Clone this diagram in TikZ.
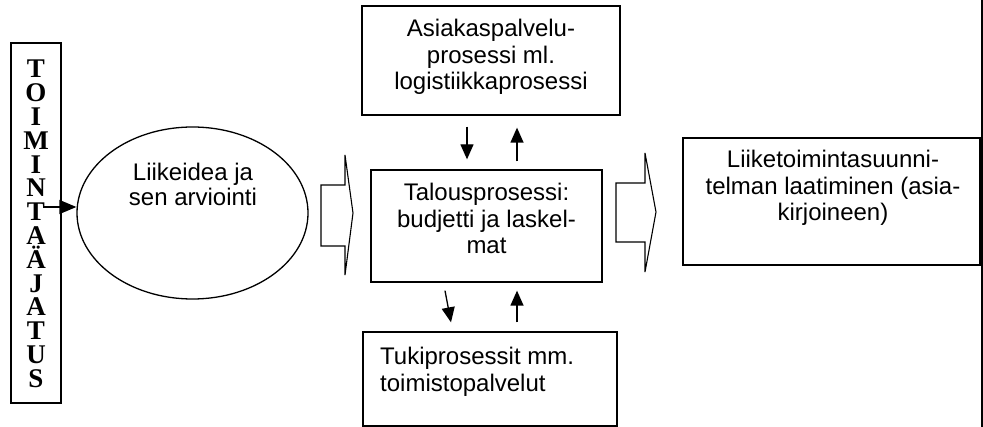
\documentclass[tikz,border=0pt]{standalone}
\usepackage{fontspec}
\setmainfont{Liberation Sans}
\newfontfamily\serifb{Liberation Serif}
\usetikzlibrary{shapes.geometric,arrows.meta,calc}
\begin{document}
\begin{tikzpicture}[x=1pt,y=-1pt,
 box/.style={draw,line width=1.3pt,inner sep=0pt},
 txt/.style={align=center,inner sep=0pt,font=\fontsize{24}{26.5}\selectfont},
 letter/.style={inner sep=0pt,anchor=base,font=\serifb\bfseries\fontsize{27}{27}\selectfont},
 arr/.style={line width=1.3pt,-{Triangle[length=15pt,width=13pt]}},
 blockarrow/.style={draw,line width=1.1pt,line join=miter}]
\useasboundingbox (0,0) rectangle (983,427);
% vertical title box
\node[box,minimum width=50pt,minimum height=360pt] (toim) at (36,223) {};
\foreach \ch [count=\i] in {T,O,I,M,I,N,T,A,Ä,J,A,T,U,S}
  \node[letter] (l\i) at (36,{78+23.8*(\i-1)}) {\ch};
% ellipse
\node[draw,ellipse,line width=1.3pt,minimum width=231pt,minimum height=172pt,inner sep=0pt] (idea) at (192.5,213) {};
\node[txt,font=\fontsize{24}{25}\selectfont] (ideatxt) at (193,184) {Liikeidea ja\\sen arviointi};
% centre box
\node[box,minimum width=231pt,minimum height=112pt] (talous) at (486.5,226) {};
\node[txt] (taloustxt) at (486.5,218.75) {Talousprosessi:\\budjetti ja laskel-\\mat};
% top box
\node[box,minimum width=258pt,minimum height=109pt] (asiakas) at (491,60.5) {};
\node[txt] (asiakastxt) at (491,57.25) {Asiakaspalvelu-\\prosessi ml.\\logistiikkaprosessi};
% bottom box
\node[box,minimum width=254pt,minimum height=94pt] (tuki) at (490,379) {};
\node[txt,align=left,anchor=west,font=\fontsize{24}{27}\selectfont] (tukitxt) at (380,371.5) {Tukiprosessit mm.\\toimistopalvelut};
% right box
\node[draw,line width=1.1pt,minimum width=297pt,minimum height=127pt,inner sep=0pt] (liike) at (831.5,201.5) {};
\node[txt] (liiketxt) at (833,188.25) {Liiketoimintasuunni-\\telman laatiminen (asia-\\kirjoineen)};
\draw[line width=2pt] (981.5,0) -- (981.5,427);
% block arrows
\draw[blockarrow] (321,185) -- (345,185) -- (345,155) -- (353,213) -- (345,275) -- (345,246) -- (321,246) -- cycle;
\draw[blockarrow] (616,183) -- (645,183) -- (645,153) -- (656,212) -- (645,272) -- (645,242) -- (616,242) -- cycle;
% small arrows
\draw[arr] ($(asiakas.south)+(-24,11)$) -- ($(talous.north)+(-19.5,-10)$);
\draw[arr] ($(talous.north)+(30.5,-8)$) -- ($(asiakas.south)+(26,12)$);
\draw[arr] ($(talous.south)+(-41.5,8)$) -- ($(tuki.north)+(-39,-9)$);
\draw[arr] ($(tuki.north)+(27,-9)$) -- ($(talous.south)+(30.5,8)$);
\draw[line width=1.3pt,-{Triangle[length=17pt,width=14pt]}] ($(toim.center)+(7,-16)$) -- ($(idea.west)+(0,-6)$);
\end{tikzpicture}
\end{document}
